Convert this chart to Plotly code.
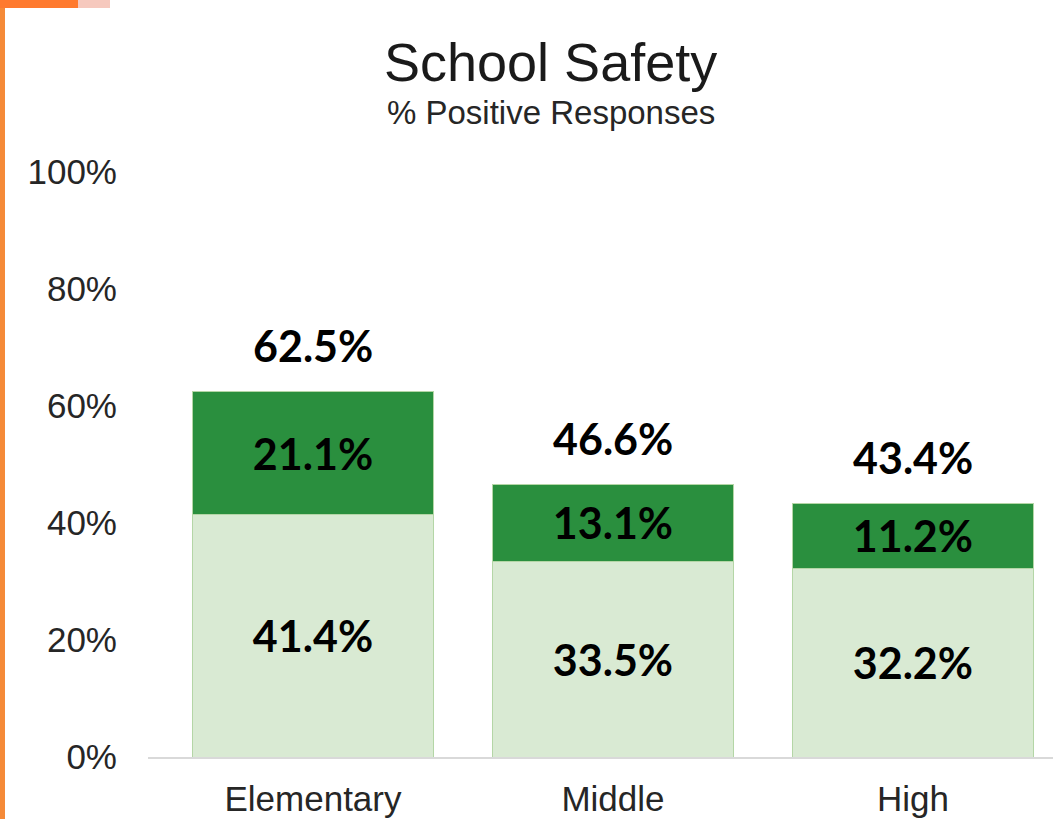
import plotly.graph_objects as go

# School safety survey: share of positive responses by school level
levels = ["Elementary", "Middle", "High"]
agree = [41.4, 33.5, 32.2]           # lower segment
strongly_agree = [21.1, 13.1, 11.2]  # upper segment
totals = [62.5, 46.6, 43.4]          # combined positive share

y_ticks = [0, 20, 40, 60, 80, 100]

LIGHT = "#D9EAD3"
DARK = "#2A8F3E"
EDGE = "#B4D6A6"
TEXT = "#262626"

W, H = 1053, 819
L, R, T, B = 148, 0, 172, 62
plot_w = W - L - R
plot_h = H - T - B


def px_x(px):
    return (px - L) / plot_w


def px_y(py):
    return (H - B - py) / plot_h


label_font = dict(family="Lato, Noto Sans, sans-serif", size=43,
                  color="#000000", weight=700)

fig = go.Figure()
fig.add_trace(go.Bar(
    x=levels, y=agree, name="Agree",
    marker=dict(color=LIGHT, line=dict(color=EDGE, width=1)),
    text=[f"{v:.1f}%" for v in agree], textposition="inside",
    insidetextanchor="middle", textangle=0,
    textfont=label_font, width=0.805,
))
fig.add_trace(go.Bar(
    x=levels, y=strongly_agree, name="Strongly agree",
    marker=dict(color=DARK, line=dict(color=EDGE, width=1)),
    text=[f"{v:.1f}%" for v in strongly_agree], textposition="inside",
    insidetextanchor="middle", textangle=0,
    textfont=label_font, width=0.805,
))

# Totals above each stack
for lvl, tot in zip(levels, totals):
    fig.add_annotation(
        x=lvl, y=tot, xref="x", yref="y", text=f"{tot:.1f}%",
        showarrow=False, yanchor="bottom", yshift=18,
        font=label_font,
    )

# Title and subtitle
fig.add_annotation(
    x=px_x(550), y=px_y(94), xref="paper", yref="paper",
    text="School Safety", showarrow=False, xanchor="center", yanchor="bottom",
    font=dict(family="Liberation Sans, Arial, sans-serif", size=54, color="#1a1a1a"),
)
fig.add_annotation(
    x=px_x(551), y=px_y(92), xref="paper", yref="paper",
    text="% Positive Responses", showarrow=False, xanchor="center", yanchor="top",
    font=dict(family="Liberation Sans, Arial, sans-serif", size=33, color="#262626"),
)

# Orange frame remnants along the left edge and top-left corner
fig.add_shape(type="rect", xref="paper", yref="paper",
              x0=px_x(0), x1=px_x(5), y0=px_y(H), y1=px_y(0),
              fillcolor="#F58A38", line=dict(width=0), layer="above")
fig.add_shape(type="rect", xref="paper", yref="paper",
              x0=px_x(0), x1=px_x(78), y0=px_y(8), y1=px_y(0),
              fillcolor="#FF7A2E", line=dict(width=0), layer="above")
fig.add_shape(type="rect", xref="paper", yref="paper",
              x0=px_x(78), x1=px_x(110), y0=px_y(8), y1=px_y(0),
              fillcolor="#F6C9BE", line=dict(width=0), layer="above")

fig.update_layout(
    width=W, height=H,
    margin=dict(l=L, r=R, t=T, b=B, pad=0),
    barmode="stack",
    showlegend=False,
    paper_bgcolor="white",
    plot_bgcolor="white",
    font=dict(family="Liberation Sans, Arial, sans-serif", color=TEXT),
)
fig.update_xaxes(
    range=[-0.55, 2.467], showgrid=False, zeroline=False,
    showline=True, linecolor="#D9D9D9", linewidth=2,
    ticks="", tickfont=dict(size=35, color=TEXT), ticklabelstandoff=10,
)
fig.update_yaxes(
    range=[0, 100], tickvals=y_ticks, ticktext=[f"{v}%" for v in y_ticks],
    showgrid=False, zeroline=False, showline=False, ticks="",
    tickfont=dict(size=35, color=TEXT), ticklabelstandoff=30,
)

fig.write_html("out.html")
